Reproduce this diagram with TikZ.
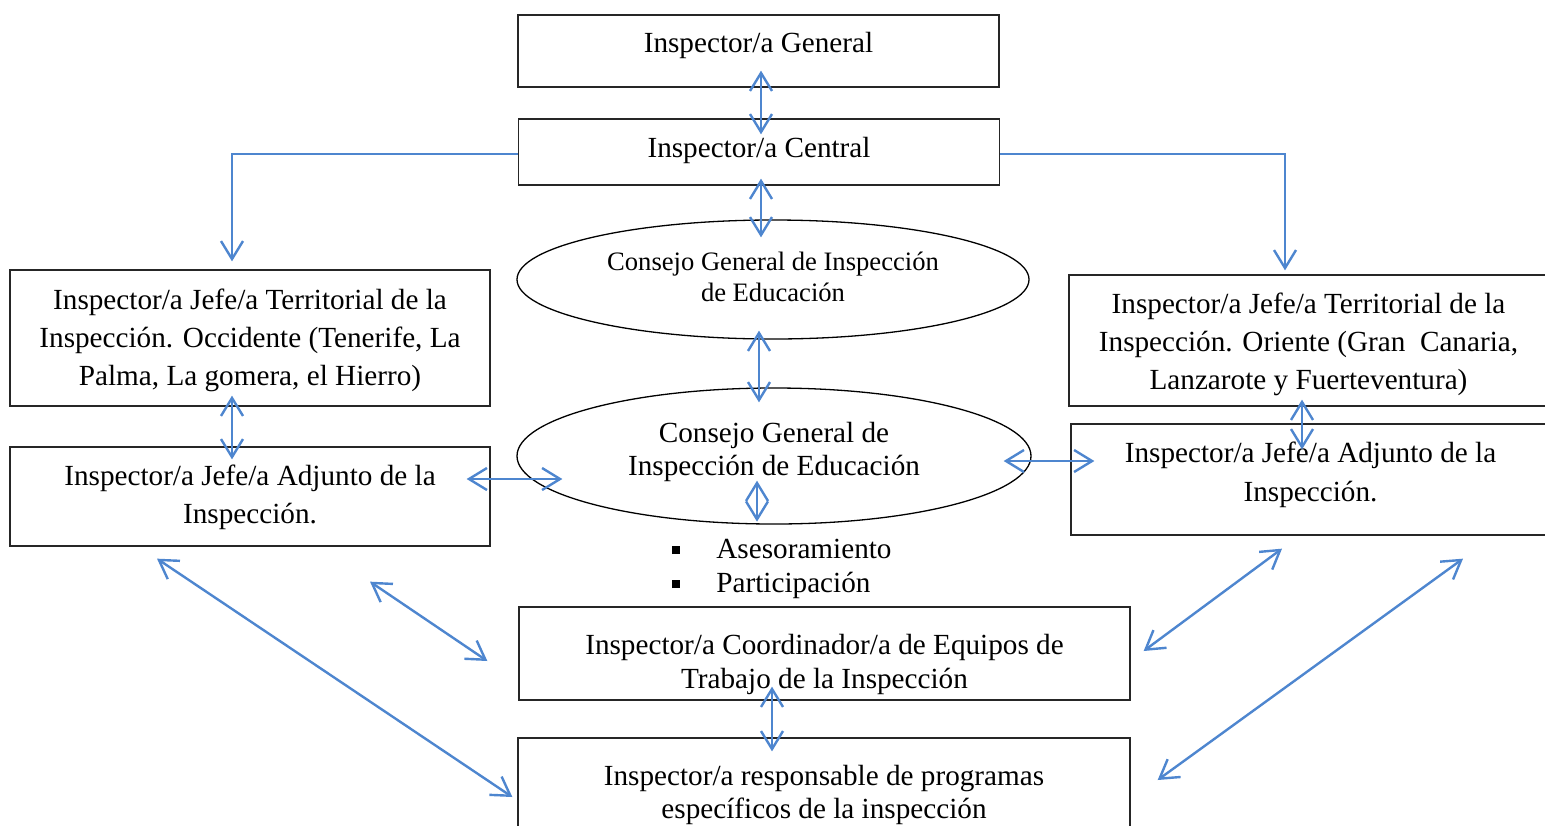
\documentclass[tikz,border=0pt]{standalone}
\usepackage{fontspec}
\setmainfont{Liberation Serif}
\usetikzlibrary{arrows.meta,shapes.geometric}
\definecolor{arrowblue}{RGB}{78,134,207}

\begin{document}
\begin{tikzpicture}[x=0.5pt,y=-0.5pt]
  \tikzstyle{box}=[rectangle,draw=black!85,line width=0.65pt,align=center,inner sep=0pt,font=\fontsize{14.6}{19}\selectfont]
  \tikzstyle{oval}=[ellipse,draw=black,line width=0.65pt,align=center,inner sep=0pt]
  \tikzstyle{bullet}=[anchor=base west,inner sep=0pt,font=\fontsize{14.6}{17}\selectfont]
  \tikzstyle{biarrow}=[draw=arrowblue,line width=1.2pt,{Straight Barb[length=9pt,width=11pt]}-{Straight Barb[length=9pt,width=11pt]}]
  \tikzstyle{feed}=[draw=arrowblue,line width=1.2pt,-{Straight Barb[length=9pt,width=11pt]}]
  \useasboundingbox (0,0) rectangle (1545,825);

  \node[box,minimum width=240.5pt,minimum height=36pt,text height=10pt,text depth=8.2pt] (gen) at (758.5,51) {Inspector/a General};
  \node[box,minimum width=240.5pt,minimum height=33pt,text height=10pt,text depth=4.2pt] (cen) at (759,152) {Inspector/a Central};
  \node[oval,minimum width=256pt,minimum height=59.5pt,text height=24pt,text depth=2.5pt,font=\fontsize{13.3}{15.5}\selectfont] (cons1) at (773,279.5)
    {Consejo General de Inspección\\de Educación};
  \node[box,minimum width=240pt,minimum height=68pt,text height=50pt,text depth=2.2pt] (terrO) at (250,338)
    {Inspector/a Jefe/a Territorial de la\\Inspección. Occidente (Tenerife, La\\Palma, La gomera, el Hierro)};
  \node[box,minimum width=240pt,minimum height=49.5pt,text height=30pt,text depth=2.7pt] (adjO) at (250,496.5)
    {Inspector/a Jefe/a Adjunto de la\\Inspección.};
  \node[box,minimum width=239.5pt,minimum height=65.5pt,text height=52pt,text depth=2.7pt] (terrE) at (1308.5,340.5)
    {Inspector/a Jefe/a Territorial de la\\Inspección. Oriente (Gran\ \ Canaria,\\Lanzarote y Fuerteventura)};
  \node[box,minimum width=239.5pt,minimum height=55.5pt,text height=25pt,text depth=2.7pt,font=\fontsize{14.6}{19.5}\selectfont] (adjE) at (1310.5,479.5)
    {Inspector/a Jefe/a Adjunto de la\\Inspección.};
  \node[oval,minimum width=257pt,minimum height=68pt,text height=22.5pt,text depth=2.7pt,font=\fontsize{14.6}{16.5}\selectfont] (cons2) at (774,456)
    {Consejo General de\\Inspección de Educación};
  \node[bullet] (ases) at (672,558.8) {\rule[2.4pt]{4pt}{4pt}\hspace{18pt}Asesoramiento};
  \node[bullet] (part) at (672,592.8) {\rule[2.4pt]{4pt}{4pt}\hspace{18pt}Participación};
  \node[box,minimum width=305.5pt,minimum height=46.5pt,text height=38pt,text depth=2.7pt,font=\fontsize{14.6}{17}\selectfont] (coord) at (824.5,653.5)
    {Inspector/a Coordinador/a de Equipos de\\Trabajo de la Inspección};
  \node[box,minimum width=306pt,minimum height=53.5pt,text height=30pt,text depth=2.7pt,font=\fontsize{14.6}{16.5}\selectfont] (prog) at (824,791.5)
    {Inspector/a responsable de programas\\específicos de la inspección};

  \draw[biarrow] ([xshift=1.25pt,yshift=8.5pt]gen.south) -- ([xshift=1pt,yshift=-8pt]cen.north);
  \draw[biarrow] ([xshift=1pt,yshift=3.5pt]cen.south) -- ([xshift=-6pt,yshift=-9pt]cons1.north);
  \draw[feed] ([yshift=-1pt]cen.west) -| ([xshift=-9pt,yshift=4pt]terrO.north);
  \draw[feed] ([yshift=-1pt]cen.east) -| ([xshift=-11.75pt,yshift=2pt]terrE.north);
  \draw[biarrow] ([xshift=-7pt,yshift=4.5pt]cons1.south) -- ([xshift=-7.5pt,yshift=-7.5pt]cons2.north);
  \draw[biarrow] ([xshift=-9pt,yshift=5.5pt]terrO.south) -- ([xshift=-9pt,yshift=-6.5pt]adjO.north);
  \draw[biarrow] ([xshift=-3.25pt,yshift=3.5pt]terrE.south) -- ([xshift=-4.25pt,yshift=-13pt]adjE.north);
  \draw[biarrow] ([xshift=-12pt,yshift=8.75pt]adjO.east) -- ([xshift=23pt,yshift=-11.5pt]cons2.west);
  \draw[biarrow] ([xshift=-14pt,yshift=-2.5pt]cons2.east) -- ([xshift=12pt,yshift=9.25pt]adjE.west);
  \draw[biarrow] ([xshift=-8.5pt,yshift=22pt]cons2.south) -- ([xshift=-8.5pt,yshift=1.5pt]cons2.south);
  \draw[biarrow] ([xshift=-26.25pt,yshift=7pt]coord.south) -- ([xshift=-26pt,yshift=-7pt]prog.north);
  \draw[biarrow] ([xshift=-46.5pt,yshift=-6pt]adjO.south) -- ([xshift=-2.5pt,yshift=-2.75pt]prog.west);
  \draw[biarrow] ([xshift=60pt,yshift=-17.5pt]adjO.south) -- ([xshift=-15.5pt,yshift=-3.75pt]coord.west);
  \draw[biarrow] ([xshift=-14.25pt,yshift=-6.5pt]adjE.south) -- ([xshift=6.5pt,yshift=1.25pt]coord.east);
  \draw[biarrow] ([xshift=76.25pt,yshift=-11.5pt]adjE.south) -- ([xshift=13.5pt,yshift=5.75pt]prog.east);
\end{tikzpicture}
\end{document}
